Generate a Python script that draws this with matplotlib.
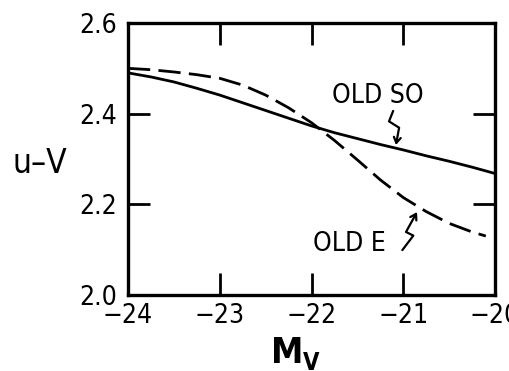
import matplotlib
matplotlib.use("Agg")
import matplotlib.pyplot as plt
from matplotlib import font_manager
from matplotlib.patches import FancyArrowPatch
from matplotlib.path import Path

# Absolute magnitude grid and colour curves
mv_so = [-24.0, -23.75, -23.5, -23.25, -23.0, -22.75, -22.5, -22.25, -22.0,
         -21.75, -21.5, -21.25, -21.0, -20.75, -20.5, -20.25, -20.0]
uv_so = [2.490, 2.481, 2.470, 2.456, 2.441, 2.424, 2.407, 2.390, 2.373,
         2.358, 2.345, 2.332, 2.320, 2.307, 2.295, 2.282, 2.268]

mv_e = [-24.0, -23.75, -23.5, -23.25, -23.0, -22.75, -22.5, -22.25, -22.0,
        -21.75, -21.5, -21.25, -21.0, -20.75, -20.5, -20.25, -20.1]
uv_e = [2.500, 2.497, 2.492, 2.486, 2.478, 2.463, 2.441, 2.413, 2.380,
        2.341, 2.298, 2.254, 2.215, 2.184, 2.158, 2.139, 2.130]

x_ticks = [-24, -23, -22, -21, -20]
x_ticklabels = ["\u221224", "\u221223", "\u221222", "\u221221", "\u221220"]
y_ticks = [2.0, 2.2, 2.4, 2.6]
y_ticklabels = ["2.0", "2.2", "2.4", "2.6"]

fonts = {(f.name, f.stretch) for f in font_manager.fontManager.ttflist}
has_condensed = any(n == "DejaVu Sans" and s in ("condensed", "semi-condensed")
                    for n, s in fonts)

plt.rcParams["font.family"] = ["DejaVu Sans"]
plt.rcParams["font.stretch"] = "condensed" if has_condensed else "normal"

fig = plt.figure(figsize=(5.09, 3.71), dpi=100)
ax = fig.add_axes([0.2515, 0.2049, 0.9725 - 0.2515, 0.938 - 0.2049])

ax.plot(mv_so, uv_so, color="black", lw=2.0, solid_capstyle="butt")
ax.plot(mv_e, uv_e, color="black", lw=2.0, linestyle=(0, (8.0, 3.0)))

ax.set_xlim(-24, -20)
ax.set_ylim(2.0, 2.6)
ax.set_xticks(x_ticks)
ax.set_xticklabels(x_ticklabels)
ax.set_yticks(y_ticks)
ax.set_yticklabels(y_ticklabels)

for s in ax.spines.values():
    s.set_linewidth(2.4)

ax.tick_params(direction="in", length=16, width=2.0, top=True, right=True,
               labelsize=19)
ax.tick_params(axis="x", pad=6)
ax.tick_params(axis="y", pad=8)

# Curve labels with squiggle pointers
ax.text(-21.78, 2.424, "OLD SO", fontsize=19, ha="left", va="baseline")
ax.text(-21.98, 2.096, "OLD E", fontsize=19, ha="left", va="baseline")

so_ptr = [(-21.11, 2.406), (-21.155, 2.383), (-21.045, 2.369), (-21.08, 2.331)]
e_ptr = [(-21.01, 2.099), (-20.89, 2.131), (-20.97, 2.139), (-20.85, 2.183)]
for pts in (so_ptr, e_ptr):
    path = Path(pts, [Path.MOVETO] + [Path.LINETO] * (len(pts) - 1))
    arr = FancyArrowPatch(path=path, arrowstyle="->,head_length=4,head_width=2.5",
                          lw=1.6, color="black", transform=ax.transData)
    ax.add_patch(arr)

# Axis labels
fig.text(40 / 509, 1 - 164 / 371, "u\u2013V", fontsize=24, ha="center", va="center")
fig.text(271 / 509, 1 - 363 / 371, "M", fontsize=26, fontweight="bold",
         ha="left", va="baseline")
fig.text(303 / 509, 0.004, "V", fontsize=17, fontweight="bold",
         ha="left", va="baseline")

fig.savefig("out.png", dpi=100)
